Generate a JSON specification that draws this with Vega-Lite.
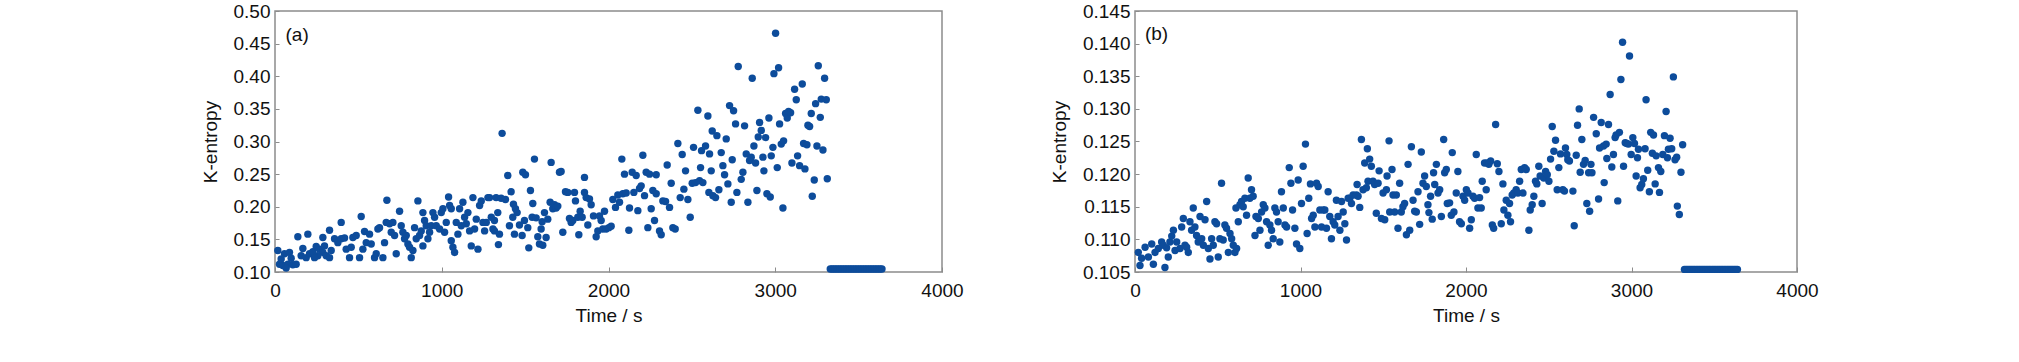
{
"$schema": "https://vega.github.io/schema/vega-lite/v6.json",
"background": "white",
"padding": {"left": 200, "top": 1, "right": 0, "bottom": 0},
"spacing": 193,
"bounds": "flush",
"config": {
  "font": "Liberation Sans",
  "view": {"stroke": "#8c8c8c", "strokeWidth": 1.5},
  "axis": {"domain": false, "grid": false, "ticks": true, "tickColor": "#8c8c8c", "tickWidth": 1, "labelFont": "Liberation Sans", "labelFontSize": 19, "labelColor": "#111111", "titleFont": "Liberation Sans", "titleFontSize": 19, "titleFontWeight": "normal", "titleColor": "#111111", "labelOverlap": false, "labelBound": false},
  "axisX": {"tickSize": -5, "labelPadding": 14, "titlePadding": 6, "labelFlush": false},
  "axisY": {"tickSize": -4, "labelPadding": 9, "titlePadding": 13}
},
"datasets": {
"a": [
{"t":17,"k":0.133},{"t":57,"k":0.128},{"t":87,"k":0.130},{"t":27,"k":0.112},{"t":47,"k":0.110},{"t":77,"k":0.112},{"t":107,"k":0.111},{"t":127,"k":0.112},{"t":67,"k":0.106},{"t":37,"k":0.120},{"t":97,"k":0.121},{"t":137,"k":0.154},{"t":197,"k":0.158},{"t":167,"k":0.136},{"t":157,"k":0.125},{"t":187,"k":0.122},{"t":207,"k":0.128},{"t":227,"k":0.131},{"t":247,"k":0.139},{"t":267,"k":0.135},{"t":287,"k":0.130},{"t":257,"k":0.125},{"t":237,"k":0.122},{"t":307,"k":0.125},{"t":327,"k":0.122},{"t":337,"k":0.133},{"t":297,"k":0.140},{"t":287,"k":0.153},{"t":327,"k":0.164},{"t":397,"k":0.176},{"t":357,"k":0.151},{"t":377,"k":0.145},{"t":397,"k":0.151},{"t":417,"k":0.152},{"t":427,"k":0.135},{"t":447,"k":0.122},{"t":457,"k":0.138},{"t":467,"k":0.153},{"t":487,"k":0.156},{"t":517,"k":0.185},{"t":507,"k":0.122},{"t":527,"k":0.135},{"t":537,"k":0.162},{"t":547,"k":0.145},{"t":567,"k":0.158},{"t":577,"k":0.143},{"t":597,"k":0.122},{"t":607,"k":0.128},{"t":617,"k":0.166},{"t":627,"k":0.168},{"t":647,"k":0.122},{"t":657,"k":0.145},{"t":667,"k":0.176},{"t":671,"k":0.210},{"t":687,"k":0.174},{"t":697,"k":0.161},{"t":707,"k":0.176},{"t":717,"k":0.156},{"t":727,"k":0.128},{"t":747,"k":0.193},{"t":757,"k":0.171},{"t":767,"k":0.161},{"t":777,"k":0.151},{"t":787,"k":0.156},{"t":797,"k":0.143},{"t":807,"k":0.138},{"t":817,"k":0.122},{"t":827,"k":0.133},{"t":837,"k":0.168},{"t":857,"k":0.209},{"t":847,"k":0.151},{"t":867,"k":0.156},{"t":877,"k":0.163},{"t":887,"k":0.191},{"t":887,"k":0.140},{"t":897,"k":0.179},{"t":907,"k":0.171},{"t":917,"k":0.151},{"t":927,"k":0.161},{"t":937,"k":0.171},{"t":947,"k":0.191},{"t":957,"k":0.184},{"t":967,"k":0.171},{"t":987,"k":0.166},{"t":997,"k":0.191},{"t":1007,"k":0.197},{"t":1017,"k":0.161},{"t":1027,"k":0.176},{"t":1041,"k":0.215},{"t":1047,"k":0.202},{"t":1057,"k":0.148},{"t":1067,"k":0.138},{"t":1077,"k":0.130},{"t":1057,"k":0.197},{"t":1087,"k":0.176},{"t":1097,"k":0.158},{"t":1107,"k":0.197},{"t":1117,"k":0.171},{"t":1127,"k":0.207},{"t":1137,"k":0.184},{"t":1147,"k":0.174},{"t":1157,"k":0.191},{"t":1167,"k":0.163},{"t":1177,"k":0.140},{"t":1187,"k":0.214},{"t":1197,"k":0.166},{"t":1207,"k":0.181},{"t":1217,"k":0.135},{"t":1227,"k":0.202},{"t":1237,"k":0.209},{"t":1247,"k":0.176},{"t":1257,"k":0.163},{"t":1267,"k":0.176},{"t":1277,"k":0.214},{"t":1287,"k":0.214},{"t":1297,"k":0.184},{"t":1307,"k":0.166},
{"t":1316,"k":0.179},{"t":1316,"k":0.163},{"t":1346,"k":0.158},{"t":1340,"k":0.142},{"t":1362,"k":0.3125},{"t":1326,"k":0.214},{"t":1356,"k":0.213},{"t":1382,"k":0.211},{"t":1336,"k":0.191},{"t":1396,"k":0.248},{"t":1416,"k":0.223},{"t":1430,"k":0.204},{"t":1442,"k":0.197},{"t":1452,"k":0.191},{"t":1426,"k":0.184},{"t":1406,"k":0.171},{"t":1436,"k":0.158},{"t":1466,"k":0.172},{"t":1482,"k":0.156},{"t":1486,"k":0.253},{"t":1502,"k":0.249},{"t":1496,"k":0.179},{"t":1516,"k":0.168},{"t":1522,"k":0.137},{"t":1532,"k":0.225},{"t":1542,"k":0.184},{"t":1546,"k":0.205},{"t":1556,"k":0.273},{"t":1566,"k":0.183},{"t":1576,"k":0.154},{"t":1586,"k":0.143},{"t":1596,"k":0.166},{"t":1606,"k":0.141},{"t":1602,"k":0.177},{"t":1616,"k":0.191},{"t":1626,"k":0.153},{"t":1636,"k":0.181},{"t":1650,"k":0.207},{"t":1656,"k":0.268},{"t":1666,"k":0.197},{"t":1676,"k":0.203},{"t":1686,"k":0.198},{"t":1696,"k":0.201},{"t":1706,"k":0.253},{"t":1716,"k":0.254},{"t":1726,"k":0.161},{"t":1742,"k":0.223},{"t":1756,"k":0.222},{"t":1766,"k":0.182},{"t":1776,"k":0.176},{"t":1786,"k":0.179},{"t":1796,"k":0.222},{"t":1802,"k":0.209},{"t":1816,"k":0.184},{"t":1822,"k":0.157},{"t":1830,"k":0.193},{"t":1842,"k":0.184},{"t":1856,"k":0.245},{"t":1856,"k":0.222},{"t":1866,"k":0.214},{"t":1876,"k":0.172},{"t":1886,"k":0.212},{"t":1896,"k":0.203},{"t":1910,"k":0.186},{"t":1926,"k":0.154},{"t":1936,"k":0.163},{"t":1946,"k":0.186},{"t":1956,"k":0.179},{"t":1966,"k":0.166},{"t":1976,"k":0.193},{"t":1986,"k":0.166},{"t":2002,"k":0.168},{"t":2016,"k":0.170},{"t":2026,"k":0.211},{"t":2042,"k":0.199},{"t":2056,"k":0.218},{"t":2066,"k":0.207},{"t":2080,"k":0.273},{"t":2086,"k":0.220},{"t":2096,"k":0.250},{"t":2106,"k":0.221},{"t":2122,"k":0.164},{"t":2126,"k":0.198},{"t":2142,"k":0.253},{"t":2152,"k":0.222},{"t":2166,"k":0.248},{"t":2176,"k":0.194},{"t":2186,"k":0.228},{"t":2196,"k":0.232},{"t":2206,"k":0.279},{"t":2216,"k":0.217},{"t":2226,"k":0.253},{"t":2236,"k":0.168},{"t":2246,"k":0.250},{"t":2256,"k":0.197},{"t":2266,"k":0.225},{"t":2276,"k":0.179},{"t":2286,"k":0.249},{"t":2286,"k":0.220},{"t":2306,"k":0.163},{"t":2316,"k":0.157},{"t":2326,"k":0.209},{"t":2342,"k":0.208},{"t":2352,"k":0.264},{"t":2366,"k":0.199},{"t":2376,"k":0.236},{"t":2386,"k":0.168},{"t":2400,"k":0.166},{"t":2416,"k":0.297},{"t":2430,"k":0.214},{"t":2442,"k":0.280},{"t":2452,"k":0.227},{"t":2462,"k":0.255},{"t":2476,"k":0.211},{"t":2490,"k":0.184},{"t":2502,"k":0.236},{"t":2510,"k":0.291},{"t":2522,"k":0.237},{"t":2536,"k":0.348},{"t":2546,"k":0.240},{"t":2558,"k":0.286},{"t":2552,"k":0.260},{"t":2566,"k":0.237},{"t":2582,"k":0.293},{"t":2596,"k":0.339},{"t":2606,"k":0.281},{"t":2602,"k":0.222},{"t":2616,"k":0.255},{"t":2622,"k":0.316},{"t":2626,"k":0.217},
{"t":2642,"k":0.214},{"t":2650,"k":0.309},{"t":2662,"k":0.226},{"t":2676,"k":0.283},{"t":2686,"k":0.263},{"t":2696,"k":0.249},{"t":2706,"k":0.304},{"t":2716,"k":0.235},{"t":2726,"k":0.355},{"t":2736,"k":0.207},{"t":2742,"k":0.272},{"t":2750,"k":0.347},{"t":2762,"k":0.327},{"t":2770,"k":0.222},{"t":2778,"k":0.415},{"t":2796,"k":0.242},{"t":2806,"k":0.253},{"t":2816,"k":0.324},{"t":2826,"k":0.281},{"t":2836,"k":0.207},{"t":2846,"k":0.271},{"t":2856,"k":0.276},{"t":2862,"k":0.397},{"t":2872,"k":0.293},{"t":2882,"k":0.267},{"t":2890,"k":0.225},{"t":2898,"k":0.307},{"t":2906,"k":0.329},{"t":2916,"k":0.317},{"t":2926,"k":0.276},{"t":2932,"k":0.255},{"t":2942,"k":0.306},{"t":2950,"k":0.220},{"t":2962,"k":0.336},{"t":2970,"k":0.215},{"t":2976,"k":0.278},{"t":2986,"k":0.291},{"t":2992,"k":0.404},{"t":3002,"k":0.466},{"t":3012,"k":0.260},{"t":3020,"k":0.413},{"t":3026,"k":0.327},{"t":3036,"k":0.296},{"t":3046,"k":0.198},{"t":3050,"k":0.301},{"t":3062,"k":0.343},{"t":3072,"k":0.336},{"t":3080,"k":0.346},{"t":3092,"k":0.344},{"t":3100,"k":0.267},{"t":3116,"k":0.380},{"t":3126,"k":0.364},{"t":3134,"k":0.278},{"t":3146,"k":0.263},{"t":3162,"k":0.388},{"t":3170,"k":0.297},{"t":3178,"k":0.258},{"t":3190,"k":0.295},{"t":3196,"k":0.325},{"t":3206,"k":0.323},{"t":3216,"k":0.343},{"t":3222,"k":0.216},{"t":3234,"k":0.241},{"t":3242,"k":0.358},{"t":3250,"k":0.293},{"t":3258,"k":0.416},{"t":3270,"k":0.337},{"t":3276,"k":0.365},{"t":3286,"k":0.287},{"t":3296,"k":0.397},{"t":3306,"k":0.364},{"t":3312,"k":0.243},
{"t":3330,"k":0.1045},{"t":3340,"k":0.1045},{"t":3350,"k":0.1045},{"t":3360,"k":0.1045},{"t":3370,"k":0.1045},{"t":3380,"k":0.1045},{"t":3390,"k":0.1045},{"t":3400,"k":0.1045},{"t":3410,"k":0.1045},{"t":3420,"k":0.1045},{"t":3430,"k":0.1045},{"t":3440,"k":0.1045},{"t":3450,"k":0.1045},{"t":3460,"k":0.1045},{"t":3470,"k":0.1045},{"t":3480,"k":0.1045},{"t":3490,"k":0.1045},{"t":3500,"k":0.1045},{"t":3510,"k":0.1045},{"t":3520,"k":0.1045},{"t":3530,"k":0.1045},{"t":3540,"k":0.1045},{"t":3550,"k":0.1045},{"t":3560,"k":0.1045},{"t":3570,"k":0.1045},{"t":3580,"k":0.1045},{"t":3590,"k":0.1045},{"t":3600,"k":0.1045},{"t":3610,"k":0.1045},{"t":3620,"k":0.1045},{"t":3630,"k":0.1045},{"t":3640,"k":0.1045}
],
"b": [
{"t":20,"k":0.1080},{"t":40,"k":0.1071},{"t":61,"k":0.1088},{"t":30,"k":0.1060},{"t":81,"k":0.1073},{"t":101,"k":0.1093},{"t":111,"k":0.1062},{"t":121,"k":0.1080},{"t":141,"k":0.1086},{"t":161,"k":0.1096},{"t":171,"k":0.1091},{"t":181,"k":0.1057},{"t":191,"k":0.1087},{"t":201,"k":0.1073},{"t":211,"k":0.1096},{"t":222,"k":0.1105},{"t":232,"k":0.1114},{"t":242,"k":0.1083},{"t":252,"k":0.1096},{"t":272,"k":0.1086},{"t":282,"k":0.1119},{"t":292,"k":0.1132},{"t":302,"k":0.1091},{"t":312,"k":0.1088},{"t":322,"k":0.1080},{"t":332,"k":0.1127},{"t":342,"k":0.1114},{"t":352,"k":0.1148},{"t":362,"k":0.1119},{"t":372,"k":0.1106},{"t":382,"k":0.1096},{"t":393,"k":0.1135},{"t":403,"k":0.1101},{"t":413,"k":0.1091},{"t":423,"k":0.1130},{"t":433,"k":0.1158},{"t":443,"k":0.1086},{"t":453,"k":0.1070},{"t":463,"k":0.1101},{"t":473,"k":0.1091},{"t":483,"k":0.1127},{"t":493,"k":0.1124},{"t":503,"k":0.1073},{"t":513,"k":0.1101},{"t":523,"k":0.1186},{"t":533,"k":0.1099},{"t":543,"k":0.1122},{"t":553,"k":0.1117},{"t":564,"k":0.1080},{"t":574,"k":0.1109},{"t":584,"k":0.1101},{"t":594,"k":0.1091},{"t":604,"k":0.1080},{"t":614,"k":0.1086},{"t":624,"k":0.1127},{"t":610,"k":0.1148},{"t":634,"k":0.1153},{"t":644,"k":0.1158},{"t":654,"k":0.1150},{"t":664,"k":0.1163},{"t":674,"k":0.1137},{"t":684,"k":0.1194},{"t":694,"k":0.1163},{"t":704,"k":0.1176},{"t":714,"k":0.1166},{"t":725,"k":0.1106},{"t":731,"k":0.1135},{"t":745,"k":0.1132},{"t":755,"k":0.1114},{"t":765,"k":0.1142},{"t":775,"k":0.1153},{"t":785,"k":0.1148},{"t":795,"k":0.1127},{"t":805,"k":0.1091},{"t":815,"k":0.1122},{"t":825,"k":0.1114},{"t":835,"k":0.1101},{"t":845,"k":0.1148},{"t":855,"k":0.1142},{"t":865,"k":0.1127},{"t":875,"k":0.1096},{"t":885,"k":0.1173},{"t":896,"k":0.1148},{"t":906,"k":0.1122},{"t":916,"k":0.1119},{"t":932,"k":0.1210},{"t":942,"k":0.1186},{"t":952,"k":0.1145},{"t":966,"k":0.1117},{"t":976,"k":0.1093},{"t":986,"k":0.1191},{"t":996,"k":0.1086},{"t":1006,"k":0.1155},{"t":1016,"k":0.1212},{"t":1030,"k":0.1246},{"t":1040,"k":0.1109},{"t":1050,"k":0.1163},{"t":1060,"k":0.1185},{"t":1067,"k":0.1132},{"t":1077,"k":0.1137},{"t":1087,"k":0.1119},{"t":1097,"k":0.1186},{"t":1107,"k":0.1181},{"t":1117,"k":0.1145},{"t":1127,"k":0.1119},{"t":1137,"k":0.1145},{"t":1147,"k":0.1145},{"t":1157,"k":0.1117},{"t":1167,"k":0.1173},{"t":1177,"k":0.1135},{"t":1187,"k":0.1101},{"t":1197,"k":0.1127},{"t":1207,"k":0.1122},{"t":1217,"k":0.1160},{"t":1227,"k":0.1135},{"t":1238,"k":0.1114},{"t":1248,"k":0.1158},{"t":1258,"k":0.1142},{"t":1268,"k":0.1124},{"t":1278,"k":0.1099},{"t":1288,"k":0.1163},{"t":1298,"k":0.1163},{"t":1308,"k":0.1155},{"t":1318,"k":0.1168},
{"t":1338,"k":0.1168},{"t":1348,"k":0.1166},{"t":1342,"k":0.1184},{"t":1358,"k":0.1149},{"t":1368,"k":0.1253},{"t":1378,"k":0.1176},{"t":1388,"k":0.1217},{"t":1398,"k":0.1179},{"t":1404,"k":0.1239},{"t":1408,"k":0.1189},{"t":1418,"k":0.1223},{"t":1428,"k":0.1212},{"t":1438,"k":0.1189},{"t":1448,"k":0.1184},{"t":1458,"k":0.1140},{"t":1469,"k":0.1186},{"t":1475,"k":0.1205},{"t":1489,"k":0.1132},{"t":1499,"k":0.1171},{"t":1509,"k":0.1130},{"t":1519,"k":0.1176},{"t":1523,"k":0.1197},{"t":1535,"k":0.1251},{"t":1539,"k":0.1142},{"t":1553,"k":0.1207},{"t":1559,"k":0.1168},{"t":1569,"k":0.1142},{"t":1579,"k":0.1168},{"t":1589,"k":0.1117},{"t":1599,"k":0.1186},{"t":1609,"k":0.1142},{"t":1619,"k":0.1150},{"t":1629,"k":0.1155},{"t":1640,"k":0.1107},{"t":1650,"k":0.1215},{"t":1660,"k":0.1114},{"t":1670,"k":0.1242},{"t":1680,"k":0.1160},{"t":1690,"k":0.1143},{"t":1700,"k":0.1142},{"t":1710,"k":0.1173},{"t":1720,"k":0.1123},{"t":1730,"k":0.1234},{"t":1740,"k":0.1186},{"t":1750,"k":0.1197},{"t":1760,"k":0.1181},{"t":1770,"k":0.1153},{"t":1776,"k":0.1141},{"t":1786,"k":0.1166},{"t":1796,"k":0.1131},{"t":1804,"k":0.1202},{"t":1811,"k":0.1184},{"t":1821,"k":0.1215},{"t":1831,"k":0.1171},{"t":1841,"k":0.1176},{"t":1851,"k":0.1135},{"t":1865,"k":0.1253},{"t":1871,"k":0.1202},{"t":1881,"k":0.1207},{"t":1887,"k":0.1155},{"t":1901,"k":0.1156},{"t":1911,"k":0.1137},{"t":1917,"k":0.1233},{"t":1927,"k":0.1142},{"t":1941,"k":0.1171},{"t":1951,"k":0.1204},{"t":1961,"k":0.1127},{"t":1972,"k":0.1124},{"t":1982,"k":0.1166},{"t":1992,"k":0.1160},{"t":2002,"k":0.1176},{"t":2012,"k":0.1171},{"t":2022,"k":0.1117},{"t":2032,"k":0.1130},{"t":2042,"k":0.1166},{"t":2052,"k":0.1163},{"t":2062,"k":0.1230},{"t":2072,"k":0.1148},{"t":2082,"k":0.1164},{"t":2092,"k":0.1148},{"t":2098,"k":0.1189},{"t":2112,"k":0.1217},{"t":2122,"k":0.1176},{"t":2128,"k":0.1217},{"t":2138,"k":0.1215},{"t":2149,"k":0.1220},{"t":2159,"k":0.1122},{"t":2167,"k":0.1117},{"t":2179,"k":0.1276},{"t":2189,"k":0.1216},{"t":2199,"k":0.1204},{"t":2213,"k":0.1124},{"t":2223,"k":0.1185},{"t":2229,"k":0.1145},{"t":2243,"k":0.1160},{"t":2253,"k":0.1137},{"t":2263,"k":0.1155},{"t":2269,"k":0.1127},{"t":2279,"k":0.1168},{"t":2289,"k":0.1171},{"t":2303,"k":0.1176},{"t":2314,"k":0.1171},{"t":2324,"k":0.1189},{"t":2334,"k":0.1207},{"t":2344,"k":0.1171},{"t":2354,"k":0.1210},{"t":2364,"k":0.1207},{"t":2380,"k":0.1114},{"t":2388,"k":0.1145},{"t":2400,"k":0.1153},{"t":2410,"k":0.1166},{"t":2420,"k":0.1189},{"t":2428,"k":0.1185},{"t":2440,"k":0.1212},{"t":2448,"k":0.1197},{"t":2460,"k":0.1155},{"t":2470,"k":0.1194},{"t":2481,"k":0.1204},{"t":2491,"k":0.1199},{"t":2501,"k":0.1189},{"t":2511,"k":0.1223},{"t":2521,"k":0.1273},{"t":2531,"k":0.1235},{"t":2541,"k":0.1252},{"t":2551,"k":0.1176},{"t":2561,"k":0.1210},{"t":2571,"k":0.1231},{"t":2585,"k":0.1176},{"t":2595,"k":0.1174},{"t":2601,"k":0.1240},{"t":2609,"k":0.1230},{"t":2615,"k":0.1222},{"t":2625,"k":0.1220},
{"t":2646,"k":0.1174},{"t":2654,"k":0.1121},{"t":2666,"k":0.1229},{"t":2674,"k":0.1275},{"t":2684,"k":0.1300},{"t":2700,"k":0.1253},{"t":2690,"k":0.1203},{"t":2710,"k":0.1215},{"t":2720,"k":0.1221},{"t":2730,"k":0.1155},{"t":2741,"k":0.1202},{"t":2747,"k":0.1143},{"t":2755,"k":0.1215},{"t":2761,"k":0.1202},{"t":2771,"k":0.1287},{"t":2787,"k":0.1262},{"t":2801,"k":0.1162},{"t":2807,"k":0.1240},{"t":2817,"k":0.1279},{"t":2831,"k":0.1243},{"t":2835,"k":0.1187},{"t":2847,"k":0.1246},{"t":2851,"k":0.1224},{"t":2861,"k":0.1276},{"t":2871,"k":0.1322},{"t":2881,"k":0.1211},{"t":2891,"k":0.1230},{"t":2901,"k":0.1256},{"t":2907,"k":0.1260},{"t":2917,"k":0.1159},{"t":2927,"k":0.1264},{"t":2936,"k":0.1345},{"t":2946,"k":0.1402},{"t":2952,"k":0.1212},{"t":2962,"k":0.1248},{"t":2972,"k":0.1247},{"t":2982,"k":0.1246},{"t":2988,"k":0.1381},{"t":2998,"k":0.1230},{"t":3008,"k":0.1256},{"t":3018,"k":0.1247},{"t":3028,"k":0.1197},{"t":3036,"k":0.1225},{"t":3042,"k":0.1238},{"t":3052,"k":0.1179},{"t":3062,"k":0.1184},{"t":3072,"k":0.1193},{"t":3082,"k":0.1239},{"t":3088,"k":0.1314},{"t":3098,"k":0.1206},{"t":3108,"k":0.1173},{"t":3116,"k":0.1264},{"t":3126,"k":0.1232},{"t":3133,"k":0.1260},{"t":3143,"k":0.1185},{"t":3149,"k":0.1228},{"t":3163,"k":0.1210},{"t":3169,"k":0.1172},{"t":3177,"k":0.1204},{"t":3189,"k":0.1230},{"t":3199,"k":0.1259},{"t":3209,"k":0.1296},{"t":3217,"k":0.1225},{"t":3223,"k":0.1238},{"t":3233,"k":0.1255},{"t":3243,"k":0.1239},{"t":3253,"k":0.1349},{"t":3263,"k":0.1222},{"t":3273,"k":0.1226},{"t":3277,"k":0.1151},{"t":3289,"k":0.1138},{"t":3299,"k":0.1203},{"t":3309,"k":0.1245},
{"t":3320,"k":0.1054},{"t":3330,"k":0.1054},{"t":3340,"k":0.1054},{"t":3350,"k":0.1054},{"t":3360,"k":0.1054},{"t":3370,"k":0.1054},{"t":3380,"k":0.1054},{"t":3390,"k":0.1054},{"t":3400,"k":0.1054},{"t":3410,"k":0.1054},{"t":3420,"k":0.1054},{"t":3430,"k":0.1054},{"t":3440,"k":0.1054},{"t":3450,"k":0.1054},{"t":3460,"k":0.1054},{"t":3470,"k":0.1054},{"t":3480,"k":0.1054},{"t":3490,"k":0.1054},{"t":3500,"k":0.1054},{"t":3510,"k":0.1054},{"t":3520,"k":0.1054},{"t":3530,"k":0.1054},{"t":3540,"k":0.1054},{"t":3550,"k":0.1054},{"t":3560,"k":0.1054},{"t":3570,"k":0.1054},{"t":3580,"k":0.1054},{"t":3590,"k":0.1054},{"t":3600,"k":0.1054},{"t":3610,"k":0.1054},{"t":3620,"k":0.1054},{"t":3630,"k":0.1054},{"t":3640,"k":0.1054}
]
},
"hconcat": [
{
  "width": 667, "height": 261,
  "layer": [
    {
      "data": {"name": "a"},
      "mark": {"type": "point", "filled": true, "shape": "circle", "size": 55, "opacity": 1, "color": "#0d4c9b"},
      "encoding": {
        "x": {"field": "t", "type": "quantitative", "scale": {"domain": [0, 4000], "nice": false, "zero": false}, "axis": {"title": "Time / s", "values": [0, 1000, 2000, 3000, 4000], "format": "d", "labelOverlap": false}},
        "y": {"field": "k", "type": "quantitative", "scale": {"domain": [0.1, 0.5], "nice": false, "zero": false}, "axis": {"title": "K-entropy", "values": [0.1, 0.15, 0.2, 0.25, 0.3, 0.35, 0.4, 0.45, 0.5], "format": ".2f", "labelOverlap": false, "labelBound": false, "tickCount": 9}}
      }
    },
    {
      "data": {"values": [{"label": "(a)", "t": 63, "k": 0.4635}]},
      "mark": {"type": "text", "align": "left", "baseline": "middle", "fontSize": 19, "color": "#111111"},
      "encoding": {
        "x": {"field": "t", "type": "quantitative"},
        "y": {"field": "k", "type": "quantitative"},
        "text": {"field": "label"}
      }
    }
  ]
},
{
  "width": 662, "height": 261,
  "layer": [
    {
      "data": {"name": "b"},
      "mark": {"type": "point", "filled": true, "shape": "circle", "size": 55, "opacity": 1, "color": "#0d4c9b"},
      "encoding": {
        "x": {"field": "t", "type": "quantitative", "scale": {"domain": [0, 4000], "nice": false, "zero": false}, "axis": {"title": "Time / s", "values": [0, 1000, 2000, 3000, 4000], "format": "d", "labelOverlap": false}},
        "y": {"field": "k", "type": "quantitative", "scale": {"domain": [0.105, 0.145], "nice": false, "zero": false}, "axis": {"title": "K-entropy", "values": [0.105, 0.11, 0.115, 0.12, 0.125, 0.13, 0.135, 0.14, 0.145], "format": ".3f", "labelOverlap": false, "labelBound": false, "tickCount": 9}}
      }
    },
    {
      "data": {"values": [{"label": "(b)", "t": 60, "k": 0.1414}]},
      "mark": {"type": "text", "align": "left", "baseline": "middle", "fontSize": 19, "color": "#111111"},
      "encoding": {
        "x": {"field": "t", "type": "quantitative"},
        "y": {"field": "k", "type": "quantitative"},
        "text": {"field": "label"}
      }
    }
  ]
}
]
}
